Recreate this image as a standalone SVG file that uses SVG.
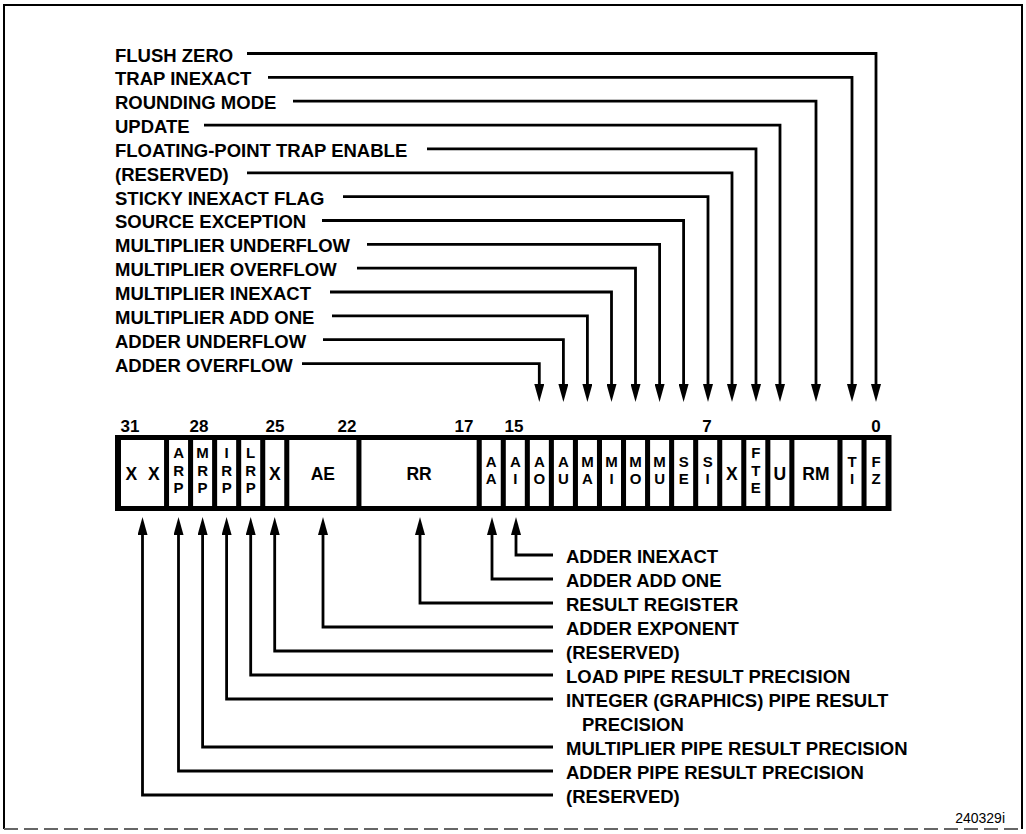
<svg xmlns="http://www.w3.org/2000/svg" width="1026" height="834" viewBox="0 0 1026 834">
<defs>
<style>
.lbl{font-family:"Liberation Sans",Arial,sans-serif;font-weight:bold;font-size:18.5px;fill:#000}
.num{font-family:"Liberation Sans",Arial,sans-serif;font-weight:bold;font-size:17px;fill:#000;text-anchor:middle}
.cell{font-family:"Liberation Sans",Arial,sans-serif;font-weight:bold;font-size:15px;fill:#000;text-anchor:middle}
.big{font-size:17.5px}
.cellbox{fill:#fff;stroke:none}
.conn{fill:none;stroke:#000;stroke-width:2.8;marker-end:url(#ah)}
.fig{font-family:"Liberation Sans",Arial,sans-serif;font-size:14px;fill:#000;text-anchor:end}
</style>
<marker id="ah" viewBox="0 0 18 10" refX="8" refY="5" markerWidth="18" markerHeight="10" markerUnits="userSpaceOnUse" orient="auto">
<path d="M0,0 L18,5 L0,10 z" fill="#000"/>
</marker>
</defs>
<rect width="1026" height="834" fill="#fff"/>
<g id="frame">
<path d="M4,829 L4,5 L1022,5 L1022,829" fill="none" stroke="#000" stroke-width="2"/>
<line x1="4" y1="829" x2="1022" y2="829" stroke="#666" stroke-width="2" stroke-dasharray="14 6"/>
</g>

<g id="top-labels">
<g id="lbl-fz"><text class="lbl" x="115" y="61.5">FLUSH ZERO</text></g>
<g id="lbl-ti"><text class="lbl" x="115" y="85.3">TRAP INEXACT</text></g>
<g id="lbl-rm"><text class="lbl" x="115" y="109.2">ROUNDING MODE</text></g>
<g id="lbl-u"><text class="lbl" x="115" y="133">UPDATE</text></g>
<g id="lbl-fte"><text class="lbl" x="115" y="156.9">FLOATING-POINT TRAP ENABLE</text></g>
<g id="lbl-res6"><text class="lbl" x="115" y="180.7">(RESERVED)</text></g>
<g id="lbl-si"><text class="lbl" x="115" y="204.6">STICKY INEXACT FLAG</text></g>
<g id="lbl-se"><text class="lbl" x="115" y="228.4">SOURCE EXCEPTION</text></g>
<g id="lbl-mu"><text class="lbl" x="115" y="252.3">MULTIPLIER UNDERFLOW</text></g>
<g id="lbl-mo"><text class="lbl" x="115" y="276.1">MULTIPLIER OVERFLOW</text></g>
<g id="lbl-mi"><text class="lbl" x="115" y="300">MULTIPLIER INEXACT</text></g>
<g id="lbl-ma"><text class="lbl" x="115" y="323.8">MULTIPLIER ADD ONE</text></g>
<g id="lbl-au"><text class="lbl" x="115" y="347.7">ADDER UNDERFLOW</text></g>
<g id="lbl-ao"><text class="lbl" x="115" y="371.5">ADDER OVERFLOW</text></g>
</g>

<g id="bit-numbers">
<text class="num" x="130" y="432">31</text>
<text class="num" x="199" y="432">28</text>
<text class="num" x="275" y="432">25</text>
<text class="num" x="347" y="432">22</text>
<text class="num" x="464" y="432">17</text>
<text class="num" x="514" y="432">15</text>
<text class="num" x="707" y="432">7</text>
<text class="num" x="876" y="432">0</text>
</g>

<g id="register">
<rect x="115" y="435" width="776.5" height="76" fill="#000"/>
<g id="c-xx"><rect class="cellbox" x="121" y="440" width="43.05" height="66"/><text class="cell big" x="142.5" y="480" word-spacing="6">X X</text></g>
<g id="c-arp"><rect class="cellbox" x="169.05" y="440" width="19" height="66"/><text class="cell" x="178.55" y="458">A</text><text class="cell" x="178.55" y="475.5">R</text><text class="cell" x="178.55" y="493">P</text></g>
<g id="c-mrp"><rect class="cellbox" x="193.1" y="440" width="19" height="66"/><text class="cell" x="202.6" y="458">M</text><text class="cell" x="202.6" y="475.5">R</text><text class="cell" x="202.6" y="493">P</text></g>
<g id="c-irp"><rect class="cellbox" x="217.15" y="440" width="19" height="66"/><text class="cell" x="226.65" y="458">I</text><text class="cell" x="226.65" y="475.5">R</text><text class="cell" x="226.65" y="493">P</text></g>
<g id="c-lrp"><rect class="cellbox" x="241.2" y="440" width="19" height="66"/><text class="cell" x="250.7" y="458">L</text><text class="cell" x="250.7" y="475.5">R</text><text class="cell" x="250.7" y="493">P</text></g>
<g id="c-x25"><rect class="cellbox" x="265.25" y="440" width="19" height="66"/><text class="cell big" x="274.75" y="480">X</text></g>
<g id="c-ae"><rect class="cellbox" x="289.3" y="440" width="67.1" height="66"/><text class="cell big" x="322.85" y="480">AE</text></g>
<g id="c-rr"><rect class="cellbox" x="361.45" y="440" width="115.2" height="66"/><text class="cell big" x="419.05" y="480">RR</text></g>
<g id="c-aa"><rect class="cellbox" x="481.75" y="440" width="19" height="66"/><text class="cell" x="491.25" y="466.5">A</text><text class="cell" x="491.25" y="484">A</text></g>
<g id="c-ai"><rect class="cellbox" x="505.8" y="440" width="19" height="66"/><text class="cell" x="515.3" y="466.5">A</text><text class="cell" x="515.3" y="484">I</text></g>
<g id="c-ao"><rect class="cellbox" x="529.85" y="440" width="19" height="66"/><text class="cell" x="539.35" y="466.5">A</text><text class="cell" x="539.35" y="484">O</text></g>
<g id="c-au"><rect class="cellbox" x="553.9" y="440" width="19" height="66"/><text class="cell" x="563.4" y="466.5">A</text><text class="cell" x="563.4" y="484">U</text></g>
<g id="c-ma"><rect class="cellbox" x="577.95" y="440" width="19" height="66"/><text class="cell" x="587.45" y="466.5">M</text><text class="cell" x="587.45" y="484">A</text></g>
<g id="c-mi"><rect class="cellbox" x="602" y="440" width="19" height="66"/><text class="cell" x="611.5" y="466.5">M</text><text class="cell" x="611.5" y="484">I</text></g>
<g id="c-mo"><rect class="cellbox" x="626.05" y="440" width="19" height="66"/><text class="cell" x="635.55" y="466.5">M</text><text class="cell" x="635.55" y="484">O</text></g>
<g id="c-mu"><rect class="cellbox" x="650.1" y="440" width="19" height="66"/><text class="cell" x="659.6" y="466.5">M</text><text class="cell" x="659.6" y="484">U</text></g>
<g id="c-se"><rect class="cellbox" x="674.15" y="440" width="19" height="66"/><text class="cell" x="683.65" y="466.5">S</text><text class="cell" x="683.65" y="484">E</text></g>
<g id="c-si"><rect class="cellbox" x="698.2" y="440" width="19" height="66"/><text class="cell" x="707.7" y="466.5">S</text><text class="cell" x="707.7" y="484">I</text></g>
<g id="c-x6"><rect class="cellbox" x="722.25" y="440" width="19" height="66"/><text class="cell big" x="731.75" y="480">X</text></g>
<g id="c-fte"><rect class="cellbox" x="746.3" y="440" width="19" height="66"/><text class="cell" x="755.8" y="458">F</text><text class="cell" x="755.8" y="475.5">T</text><text class="cell" x="755.8" y="493">E</text></g>
<g id="c-u"><rect class="cellbox" x="770.35" y="440" width="19" height="66"/><text class="cell big" x="779.85" y="480">U</text></g>
<g id="c-rm"><rect class="cellbox" x="794.4" y="440" width="43.05" height="66"/><text class="cell big" x="815.9" y="480">RM</text></g>
<g id="c-ti"><rect class="cellbox" x="842.5" y="440" width="19" height="66"/><text class="cell" x="852" y="466.5">T</text><text class="cell" x="852" y="484">I</text></g>
<g id="c-fz"><rect class="cellbox" x="866.55" y="440" width="19" height="66"/><text class="cell" x="876.05" y="466.5">F</text><text class="cell" x="876.05" y="484">Z</text></g>
</g>

<g id="bottom-labels">
<g id="lbl-ai"><text class="lbl" x="566" y="562.5">ADDER INEXACT</text></g>
<g id="lbl-aa"><text class="lbl" x="566" y="586.5">ADDER ADD ONE</text></g>
<g id="lbl-rr"><text class="lbl" x="566" y="610.5">RESULT REGISTER</text></g>
<g id="lbl-ae"><text class="lbl" x="566" y="634.5">ADDER EXPONENT</text></g>
<g id="lbl-res25"><text class="lbl" x="566" y="658.5">(RESERVED)</text></g>
<g id="lbl-lrp"><text class="lbl" x="566" y="682.5">LOAD PIPE RESULT PRECISION</text></g>
<g id="lbl-irp"><text class="lbl" x="566" y="706.5">INTEGER (GRAPHICS) PIPE RESULT</text><text class="lbl" x="582" y="730.5">PRECISION</text></g>
<g id="lbl-mrp"><text class="lbl" x="566" y="754.5">MULTIPLIER PIPE RESULT PRECISION</text></g>
<g id="lbl-arp"><text class="lbl" x="566" y="778.5">ADDER PIPE RESULT PRECISION</text></g>
<g id="lbl-res31"><text class="lbl" x="566" y="802.5">(RESERVED)</text></g>
</g>

<g id="connectors">
<polyline class="conn" points="247,53.5 876,53.5 876,392"/>
<polyline class="conn" points="268,77.4 852,77.4 852,392"/>
<polyline class="conn" points="293,101.2 816,101.2 816,392"/>
<polyline class="conn" points="204,125.1 780,125.1 780,392"/>
<polyline class="conn" points="427,148.9 756,148.9 756,392"/>
<polyline class="conn" points="247,172.8 732,172.8 732,392"/>
<polyline class="conn" points="343,196.6 708,196.6 708,392"/>
<polyline class="conn" points="322,220.5 683.6,220.5 683.6,392"/>
<polyline class="conn" points="367,244.3 659.6,244.3 659.6,392"/>
<polyline class="conn" points="357,268.2 635.5,268.2 635.5,392"/>
<polyline class="conn" points="330,292 611.5,292 611.5,392"/>
<polyline class="conn" points="332,315.9 587.4,315.9 587.4,392"/>
<polyline class="conn" points="323,339.7 563.4,339.7 563.4,392"/>
<polyline class="conn" points="302,363.6 539.3,363.6 539.3,392"/>

<polyline class="conn" points="553,555 516,555 516,527"/>
<polyline class="conn" points="553,579 492,579 492,527"/>
<polyline class="conn" points="553,603 420,603 420,527"/>
<polyline class="conn" points="553,627 323,627 323,527"/>
<polyline class="conn" points="553,651 274.7,651 274.7,527"/>
<polyline class="conn" points="553,675 250.7,675 250.7,527"/>
<polyline class="conn" points="553,699 226.6,699 226.6,527"/>
<polyline class="conn" points="553,747 202.6,747 202.6,527"/>
<polyline class="conn" points="553,771 178.5,771 178.5,527"/>
<polyline class="conn" points="553,795 142.5,795 142.5,527"/>
</g>

<g id="figure-id"><text class="fig" x="1005" y="823">240329i</text></g>
</svg>
